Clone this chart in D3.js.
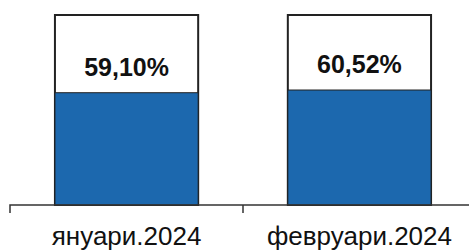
<!DOCTYPE html>
<html>
<head>
<meta charset="utf-8">
<script src="https://cdn.jsdelivr.net/npm/d3@7"></script>
<style>
  body { margin: 0; background: #fff; }
  svg { display: block; }
</style>
</head>
<body>
<div id="chart-area"></div>
<script>
var categories = ["януари.2024", "февруари.2024"];
var values = [59.10, 60.52];
var labels = ["59,10%", "60,52%"];

var width = 469, height = 250;
var baseY = 205, topY = 15;

var svg = d3.select("#chart-area")
  .append("svg")
  .attr("width", width)
  .attr("height", height);

var x = d3.scaleBand()
  .domain(categories)
  .range([10, 476])
  .paddingInner(0.385)
  .paddingOuter(0.193);

var y = d3.scaleLinear().domain([0, 100]).range([baseY, topY]);

var data = categories.map(function(c, i) {
  return { cat: c, value: values[i], label: labels[i] };
});

// outer (100%) box
svg.selectAll(".box")
  .data(data)
  .enter()
  .append("rect")
  .attr("class", "box")
  .attr("x", function(d) { return x(d.cat); })
  .attr("y", y(100))
  .attr("width", x.bandwidth())
  .attr("height", y(0) - y(100))
  .attr("fill", "#fff")
  .attr("stroke", "#222")
  .attr("stroke-width", 2);

// blue part
svg.selectAll(".bar")
  .data(data)
  .enter()
  .append("rect")
  .attr("class", "bar")
  .attr("x", function(d) { return x(d.cat); })
  .attr("y", function(d) { return y(d.value); })
  .attr("width", x.bandwidth())
  .attr("height", function(d) { return y(0) - y(d.value); })
  .attr("fill", "#1c68ae")
  .attr("stroke", "#222")
  .attr("stroke-width", 1);

svg.selectAll(".val")
  .data(data)
  .enter()
  .append("text")
  .attr("class", "val")
  .attr("x", function(d) { return x(d.cat) + x.bandwidth() / 2; })
  .attr("y", function(d) { return y(d.value) - 17; })
  .attr("text-anchor", "middle")
  .attr("font-family", "Liberation Sans, Arial, sans-serif")
  .attr("font-weight", "bold")
  .attr("font-size", "25px")
  .attr("fill", "#111")
  .text(function(d) { return d.label; });

// x axis
var xAxis = svg.append("g")
  .attr("transform", "translate(0," + baseY + ")")
  .call(d3.axisBottom(x).tickSize(0).tickPadding(22));

xAxis.select(".domain")
  .attr("stroke", "#333")
  .attr("stroke-width", 1.5)
  .attr("d", "M10,8V0H476");

xAxis.selectAll(".tick text")
  .attr("font-family", "Liberation Sans, Arial, sans-serif")
  .attr("font-size", "26px")
  .attr("fill", "#111")
  .attr("dy", "0.71em");

// separator tick between categories
svg.selectAll(".sep")
  .data(categories.slice(1))
  .enter()
  .append("line")
  .attr("class", "sep")
  .attr("x1", function(d) { return x(d) - x.step() * x.paddingInner() / 2; })
  .attr("x2", function(d) { return x(d) - x.step() * x.paddingInner() / 2; })
  .attr("y1", baseY)
  .attr("y2", baseY + 8)
  .attr("stroke", "#333")
  .attr("stroke-width", 1.5);
</script>
</body>
</html>
